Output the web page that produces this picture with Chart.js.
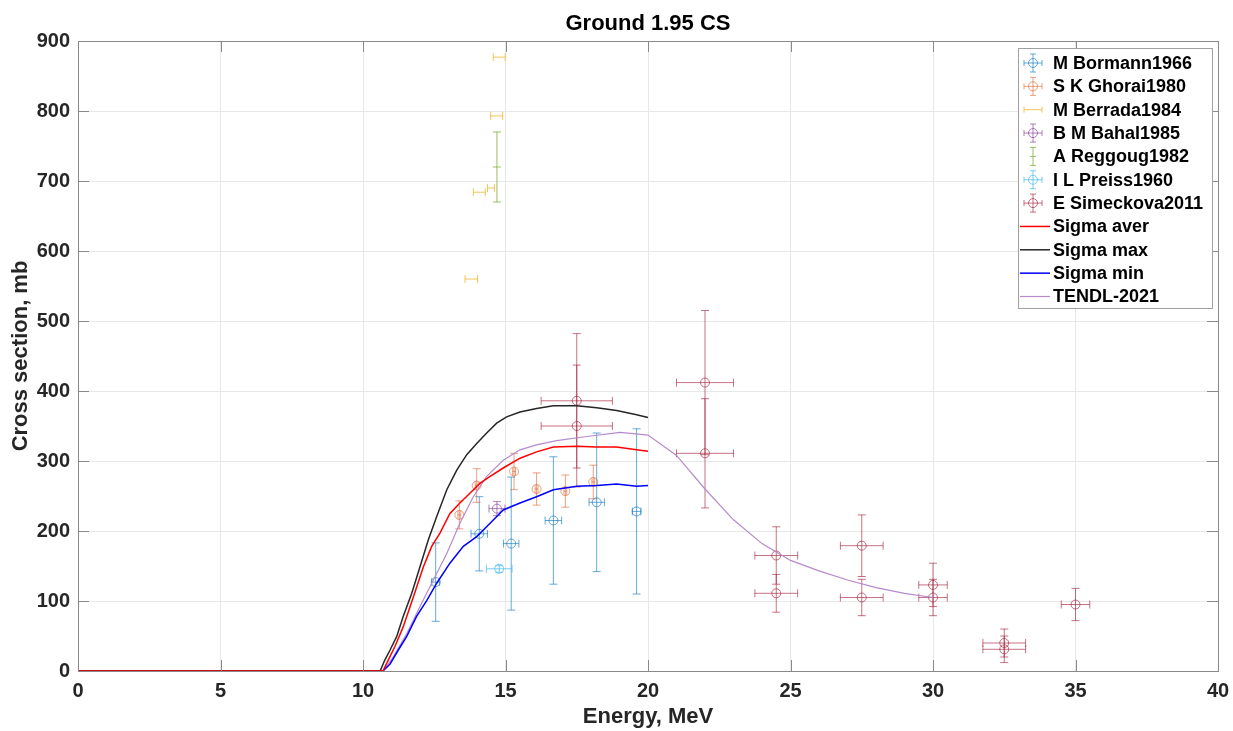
<!DOCTYPE html>
<html>
<head>
<meta charset="utf-8">
<script src="https://cdn.jsdelivr.net/npm/chart.js@4.4.0/dist/chart.umd.min.js"></script>
<style>
  html, body { margin: 0; padding: 0; background: #fff; }
  #wrap { width: 1233px; height: 731px; }
</style>
</head>
<body>
<div id="wrap"><canvas id="myChart" width="1233" height="731"></canvas></div>
<script>
// datos experimentales (E, sigma, dE, dsigma)
const bormannE = [12.55, 14.08, 15.2, 16.68, 18.2, 19.6];
const bormannCS = [127, 196, 182, 215, 241, 228];
const bormannDE = [0.14, 0.29, 0.27, 0.29, 0.27, 0.15];
const bormannDCS = [56, 53, 95, 91, 99, 118];

const ghoraiE = [13.38, 13.99, 15.3, 16.09, 17.1, 18.08];
const ghoraiCS = [223, 265, 285, 260, 257, 270];
const ghoraiDE = [0.05, 0.05, 0.05, 0.05, 0.05, 0.05];
const ghoraiDCS = [20, 24, 26, 23, 23, 24];

const berradaE = [14.78, 14.69, 14.08, 14.49, 13.8];
const berradaCS = [877, 793, 684, 690, 560];
const berradaDE = [0.21, 0.21, 0.21, 0.12, 0.22];
const berradaDCS = [0, 0, 0, 0, 0];

const bahalE = [14.7];
const bahalCS = [232];
const bahalDE = [0.28];
const bahalDCS = [10];

const reggougE = [14.7];
const reggougCS = [720];
const reggougDE = [0];
const reggougDCS = [50];

const preissE = [14.78];
const preissCS = [146];
const preissDE = [0.45];
const preissDCS = [5];

const simeckovaE = [17.5, 17.5, 22, 22, 24.5, 24.5, 27.5, 27.5, 30, 30, 32.5, 32.5, 35];
const simeckovaCS = [386, 350, 412, 311, 165, 111, 179, 105, 123, 105, 40, 31, 95];
const simeckovaDE = [1.25, 1.25, 1, 1, 0.75, 0.75, 0.75, 0.75, 0.5, 0.5, 0.75, 0.75, 0.5];
const simeckovaDCS = [96, 87, 103, 78, 41, 27, 44, 26, 31, 26, 20, 19, 23];

// curvas evaluadas
const maxE = [0, 10.6, 10.77, 10.95, 11.18, 11.41, 11.71, 12.0, 12.29, 12.58, 12.94, 13.29, 13.64, 13.99, 14.34, 14.69, 15.04, 15.51, 16.09, 16.68, 17.5, 18.2, 18.9, 19.6, 20.0];
const maxCS = [0, 0, 16, 30, 49, 78, 111, 149, 187, 220, 259, 287, 309, 325, 340, 354, 363, 370, 375, 379, 379, 376, 372, 366, 362];

const averE = [0, 10.7, 10.89, 11.12, 11.41, 11.77, 12.12, 12.41, 12.7, 13.05, 13.4, 13.75, 14.1, 14.46, 14.92, 15.51, 16.09, 16.68, 17.5, 18.2, 18.9, 19.6, 20.0];
const averCS = [0, 0, 16, 35, 63, 106, 149, 178, 197, 225, 240, 254, 268, 278, 290, 304, 313, 320, 321, 320, 320, 316, 314];

const minE = [0, 10.7, 10.95, 11.24, 11.53, 11.88, 12.24, 12.58, 13.05, 13.52, 13.99, 14.46, 14.92, 15.51, 16.09, 16.68, 17.5, 18.2, 18.9, 19.6, 20.0];
const minCS = [0, 0, 10, 30, 49, 78, 101, 125, 154, 178, 192, 211, 230, 240, 249, 259, 264, 265, 267, 264, 265];

const tendlE = [10.7, 11.06, 11.53, 12.0, 12.47, 12.94, 13.4, 13.87, 14.34, 14.92, 15.51, 16.09, 16.79, 17.85, 19.02, 20, 21, 22, 23, 24, 25, 26, 27, 28, 29, 30];
const tendlCS = [0, 20, 53, 92, 130, 168, 211, 249, 278, 301, 316, 323, 329, 335, 341, 337, 308, 260, 216, 182, 158, 143, 130, 119, 111, 105];

const xTicks = [0, 5, 10, 15, 20, 25, 30, 35, 40];
const yTicks = [0, 100, 200, 300, 400, 500, 600, 700, 800, 900];

const FONT = "'Liberation Sans', Arial, Helvetica, sans-serif";

const pts = (xs, ys) => xs.map((v, i) => ({ x: v, y: ys[i] }));

const expSet = (label, xs, ys, dx, dy, color, marker) => ({
    type: 'scatter',
    label,
    data: pts(xs, ys),
    errX: dx,
    errY: dy,
    borderColor: color,
    backgroundColor: 'transparent',
    pointRadius: marker ? 4.5 : 0,
    pointBorderWidth: 1,
    marker,
    order: 2
});

const lineSet = (label, xs, ys, color, width) => ({
    type: 'line',
    label,
    data: pts(xs, ys),
    borderColor: color,
    backgroundColor: 'transparent',
    borderWidth: width,
    pointRadius: 0,
    tension: 0,
    order: 1
});

// barras de error dibujadas con las escalas del grafico
const errorBars = {
    id: 'errorBars',
    beforeDatasetsDraw(chart) {
        const { ctx, scales: { x, y } } = chart;
        const cap = 4;
        ctx.save();
        ctx.lineWidth = 1;
        chart.data.datasets.forEach(ds => {
            if (!ds.errX) return;
            ctx.strokeStyle = ds.borderColor;
            ds.data.forEach((p, j) => {
                const px = x.getPixelForValue(p.x);
                const py = y.getPixelForValue(p.y);
                const dx = ds.errX[j], dy = ds.errY[j];
                ctx.beginPath();
                if (dy) {
                    const t = y.getPixelForValue(p.y + dy), b = y.getPixelForValue(p.y - dy);
                    ctx.moveTo(px, t); ctx.lineTo(px, b);
                    ctx.moveTo(px - cap, t); ctx.lineTo(px + cap, t);
                    ctx.moveTo(px - cap, b); ctx.lineTo(px + cap, b);
                }
                if (dx) {
                    const l = x.getPixelForValue(p.x - dx), r = x.getPixelForValue(p.x + dx);
                    ctx.moveTo(l, py); ctx.lineTo(r, py);
                    ctx.moveTo(l, py - cap); ctx.lineTo(l, py + cap);
                    ctx.moveTo(r, py - cap); ctx.lineTo(r, py + cap);
                }
                if (!ds.marker && !dx) {
                    ctx.moveTo(px - cap, py); ctx.lineTo(px + cap, py);
                }
                ctx.stroke();
            });
        });
        ctx.restore();
    }
};

// caja de ejes estilo MATLAB, ticks hacia dentro y titulo
const axesBox = {
    id: 'axesBox',
    afterDatasetsDraw(chart) {
        const { ctx, chartArea: a, scales: { x, y } } = chart;
        ctx.save();
        ctx.strokeStyle = '#8a8a8a';
        ctx.lineWidth = 1;
        ctx.beginPath();
        xTicks.forEach(v => {
            const px = Math.round(x.getPixelForValue(v)) + 0.5;
            ctx.moveTo(px, a.bottom); ctx.lineTo(px, a.bottom - 11);
            ctx.moveTo(px, a.top); ctx.lineTo(px, a.top + 11);
        });
        yTicks.forEach(v => {
            const py = Math.round(y.getPixelForValue(v)) + 0.5;
            ctx.moveTo(a.left, py); ctx.lineTo(a.left + 11, py);
            ctx.moveTo(a.right, py); ctx.lineTo(a.right - 11, py);
        });
        ctx.stroke();
        ctx.strokeRect(Math.round(a.left) + 0.5, Math.round(a.top) + 0.5, Math.round(a.right - a.left), Math.round(a.bottom - a.top));
        ctx.fillStyle = '#000';
        ctx.font = 'bold 22px ' + FONT;
        ctx.textAlign = 'center';
        ctx.textBaseline = 'middle';
        ctx.fillText('Ground 1.95 CS', (a.left + a.right) / 2, 24);
        ctx.restore();
    }
};

// leyenda dentro del area de datos
const boxLegend = {
    id: 'boxLegend',
    afterDraw(chart) {
        const { ctx } = chart;
        const left = 1018, top = 48, w = 194, h = 260, row = 23.35;
        ctx.save();
        ctx.fillStyle = '#fff';
        ctx.fillRect(left, top, w, h);
        ctx.strokeStyle = '#a0a0a0';
        ctx.lineWidth = 1;
        ctx.strokeRect(left + 0.5, top + 0.5, w, h);
        ctx.font = 'bold 18px ' + FONT;
        ctx.textBaseline = 'middle';
        ctx.textAlign = 'left';
        chart.data.datasets.forEach((ds, i) => {
            const cy = top + 15 + i * row;
            const cx = 1033;
            ctx.strokeStyle = ds.borderColor;
            ctx.lineWidth = 1;
            ctx.beginPath();
            if (ds.errX) {
                const hasX = ds.errX.some(v => v > 0), hasY = ds.errY.some(v => v > 0);
                if (hasY) {
                    ctx.moveTo(cx, cy - 9); ctx.lineTo(cx, cy + 9);
                    ctx.moveTo(cx - 3, cy - 9); ctx.lineTo(cx + 3, cy - 9);
                    ctx.moveTo(cx - 3, cy + 9); ctx.lineTo(cx + 3, cy + 9);
                }
                if (hasX) {
                    ctx.moveTo(cx - 9, cy); ctx.lineTo(cx + 9, cy);
                    ctx.moveTo(cx - 9, cy - 3); ctx.lineTo(cx - 9, cy + 3);
                    ctx.moveTo(cx + 9, cy - 3); ctx.lineTo(cx + 9, cy + 3);
                } else {
                    ctx.moveTo(cx - 3, cy); ctx.lineTo(cx + 3, cy);
                }
                ctx.stroke();
                if (ds.marker) {
                    ctx.beginPath();
                    ctx.arc(cx, cy, 4.5, 0, Math.PI * 2);
                    ctx.stroke();
                }
            } else {
                ctx.lineWidth = ds.borderWidth;
                ctx.moveTo(1020, cy); ctx.lineTo(1050, cy);
                ctx.stroke();
            }
            ctx.fillStyle = '#000';
            ctx.fillText(ds.label, 1053, cy + 1);
        });
        ctx.restore();
    }
};

const ctx = document.getElementById('myChart');

new Chart(ctx, {
    data: {
        datasets: [
            expSet('M Bormann1966', bormannE, bormannCS, bormannDE, bormannDCS, 'rgba(0,114,189,0.6)', true),
            expSet('S K Ghorai1980', ghoraiE, ghoraiCS, ghoraiDE, ghoraiDCS, 'rgba(217,83,25,0.55)', true),
            expSet('M Berrada1984', berradaE, berradaCS, berradaDE, berradaDCS, 'rgba(237,177,32,0.75)', false),
            expSet('B M Bahal1985', bahalE, bahalCS, bahalDE, bahalDCS, 'rgba(126,47,142,0.6)', true),
            expSet('A Reggoug1982', reggougE, reggougCS, reggougDE, reggougDCS, 'rgba(119,172,48,0.75)', false),
            expSet('I L Preiss1960', preissE, preissCS, preissDE, preissDCS, 'rgba(77,190,238,0.75)', true),
            expSet('E Simeckova2011', simeckovaE, simeckovaCS, simeckovaDE, simeckovaDCS, 'rgba(162,20,47,0.6)', true),
            lineSet('Sigma aver', averE, averCS, '#ff0000', 1.5),
            lineSet('Sigma max', maxE, maxCS, '#262626', 1.5),
            lineSet('Sigma min', minE, minCS, '#0000ff', 1.5),
            lineSet('TENDL-2021', tendlE, tendlCS, '#b58bcc', 1.2)
        ]
    },
    options: {
        responsive: false,
        animation: false,
        layout: { padding: { top: 41, right: 15, left: 0, bottom: 0 } },
        plugins: {
            legend: { display: false },
            title: { display: false },
            tooltip: { enabled: false }
        },
        scales: {
            x: {
                type: 'linear',
                min: 0,
                max: 40,
                afterBuildTicks: s => { s.ticks = xTicks.map(v => ({ value: v })); },
                afterFit: s => { s.height = 60; s.paddingLeft = 0; s.paddingRight = 0; },
                grid: { color: '#e8e8e8', drawTicks: false },
                border: { display: false },
                ticks: { color: '#262626', font: { family: FONT, size: 20, weight: 'bold' }, padding: 8 },
                title: { display: true, text: 'Energy, MeV', color: '#262626', font: { family: FONT, size: 22, weight: 'bold' }, padding: { top: 0, bottom: 1 } }
            },
            y: {
                type: 'linear',
                min: 0,
                max: 900,
                afterBuildTicks: s => { s.ticks = yTicks.map(v => ({ value: v })); },
                afterFit: s => { s.width = 78; s.paddingTop = 0; s.paddingBottom = 0; },
                grid: { color: '#e8e8e8', drawTicks: false },
                border: { display: false },
                ticks: { color: '#262626', font: { family: FONT, size: 20, weight: 'bold' }, padding: 8 },
                title: { display: true, text: 'Cross section, mb', color: '#262626', font: { family: FONT, size: 22, weight: 'bold' }, padding: { top: 8, bottom: 0 } }
            }
        }
    },
    plugins: [errorBars, axesBox, boxLegend]
});
</script>
</body>
</html>
